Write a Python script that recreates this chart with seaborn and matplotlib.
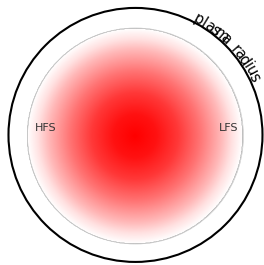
import numpy as np
import matplotlib
matplotlib.use("Agg")
import matplotlib.pyplot as plt
import seaborn as sns

sns.set_style("white")
plt.rcParams['font.family'] = ['DejaVu Sans']

# radial profile (normalised radius -> intensity)
rho_nodes = [0.0, 0.2, 0.4, 0.6, 0.8, 0.9, 1.0]
intensity = [1.0, 0.93, 0.78, 0.55, 0.28, 0.12, 0.0]

plasma_radius = 1.0
wall_radius = 1.176
side_labels = ["HFS", "LFS"]
side_x = [-0.83, 0.865]
arc_label = "plasma radius"
arc_angles = (61.5, 26.0)

cmap = sns.blend_palette(["white", "red"], as_cmap=True)

fig = plt.figure(figsize=(2.64, 2.65), dpi=100)
ax = fig.add_axes([0, 0, 1, 1])

# radial gradient: sample the profile on a fine grid inside the plasma
g = np.linspace(-plasma_radius, plasma_radius, 401)
X, Y = np.meshgrid(g, g)
rr = np.hypot(X, Y) / plasma_radius
img = np.interp(rr, rho_nodes, intensity)
img = np.ma.masked_where(rr > 1, img)
ax.imshow(img, cmap=cmap, vmin=0, vmax=1, origin='lower',
          extent=(-plasma_radius, plasma_radius, -plasma_radius, plasma_radius),
          interpolation='bilinear')

ax.add_patch(plt.Circle((0, 0), plasma_radius, fill=False, ec='0.8', lw=0.5))
ax.add_patch(plt.Circle((0, 0.01), wall_radius, fill=False, ec='black', lw=1.5))

for lab, x in zip(side_labels, side_x):
    ax.text(x, 0.07, lab, ha='center', va='center', fontsize=8, color='0.2')

# label bent along the wall, baseline sitting on the line
angs = np.linspace(arc_angles[0], arc_angles[1], len(arc_label))
r_txt = wall_radius
for ch, a in zip(arc_label, angs):
    ar = np.deg2rad(a)
    ax.text(r_txt * np.cos(ar), r_txt * np.sin(ar) + 0.01, ch, rotation=a - 90,
            ha='center', va='baseline', fontsize=10.5, color='black',
            rotation_mode='anchor')

ax.set_xlim(-1.2546, 1.19)
ax.set_ylim(-1.194, 1.259)
ax.set_aspect('equal')
ax.axis('off')

fig.savefig("out.png", dpi=100)
